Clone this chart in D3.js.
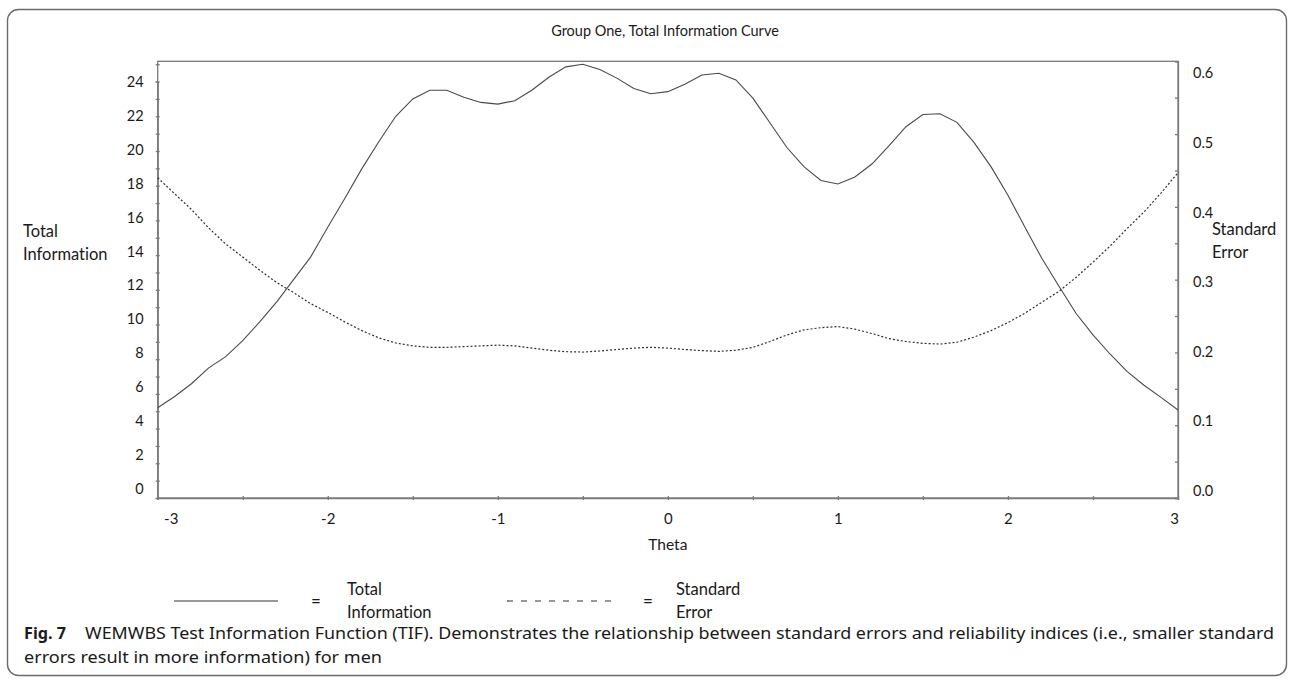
<!DOCTYPE html>
<html lang="en">
<head>
    <meta charset="UTF-8">
    <title>Group One, Total Information Curve</title>
    <style>
        body {
            margin: 0;
            background-color: #fff;
        }

        svg text {
            font-family: Lato, "Open Sans", sans-serif;
            font-variant-ligatures: none;
            fill: #1a1a1a;
        }

        .caption text {
            font-family: "Noto Sans", "Open Sans", sans-serif;
        }

        .frame {
            fill: none;
            stroke: #6b6b6b;
            stroke-width: 1.4;
        }

        .axis path,
        .axis line {
            fill: none;
            stroke: #7a7a7a;
            stroke-width: 1.3;
        }
    </style>
</head>
<body>

<svg id="chart" width="1292" height="683"></svg>

<script src="https://d3js.org/d3.v7.min.js"></script>
<script>
    // theta grid the curves were sampled on
    const theta = [
        -3.0, -2.9, -2.8, -2.7, -2.6, -2.5, -2.4, -2.3, -2.2, -2.1,
        -2.0, -1.9, -1.8, -1.7, -1.6, -1.5, -1.4, -1.3, -1.2, -1.1,
        -1.0, -0.9, -0.8, -0.7, -0.6, -0.5, -0.4, -0.3, -0.2, -0.1,
        0.0, 0.1, 0.2, 0.3, 0.4, 0.5, 0.6, 0.7, 0.8, 0.9,
        1.0, 1.1, 1.2, 1.3, 1.4, 1.5, 1.6, 1.7, 1.8, 1.9,
        2.0, 2.1, 2.2, 2.3, 2.4, 2.5, 2.6, 2.7, 2.8, 2.9, 3.0
    ];

    const totalInfo = [
        5.2, 5.85, 6.6, 7.5, 8.15, 9.07, 10.15, 11.3, 12.6, 13.9,
        15.6, 17.26, 18.97, 20.53, 22.0, 23.0, 23.5, 23.5, 23.1, 22.8,
        22.7, 22.9, 23.5, 24.25, 24.85, 25.0, 24.7, 24.2, 23.6, 23.3,
        23.42, 23.85, 24.38, 24.48, 24.1, 23.05, 21.63, 20.2, 19.1, 18.3,
        18.1, 18.5, 19.25, 20.3, 21.4, 22.1, 22.15, 21.65, 20.5, 19.1,
        17.45, 15.6, 13.8, 12.2, 10.65, 9.4, 8.3, 7.3, 6.5, 5.8, 5.07
    ];

    const stdError = [
        0.440, 0.418, 0.396, 0.371, 0.349, 0.331, 0.313, 0.296, 0.282, 0.267,
        0.255, 0.242, 0.230, 0.220, 0.213, 0.209, 0.207, 0.207, 0.208, 0.209,
        0.210, 0.209, 0.206, 0.203, 0.201, 0.2005, 0.202, 0.204, 0.206, 0.207,
        0.206, 0.204, 0.2025, 0.2015, 0.203, 0.207, 0.215, 0.224, 0.231, 0.234,
        0.2355, 0.232, 0.226, 0.219, 0.215, 0.2125, 0.2115, 0.214, 0.221, 0.230,
        0.241, 0.254, 0.269, 0.284, 0.303, 0.324, 0.346, 0.370, 0.393, 0.419, 0.447
    ];

    const thetaTicks = [-3, -2, -1, 0, 1, 2, 3];
    const thetaMinorTicks = [-3, -2.5, -2, -1.5, -1, -0.5, 0, 0.5, 1, 1.5, 2, 2.5, 3];
    const infoTicks = [0, 2, 4, 6, 8, 10, 12, 14, 16, 18, 20, 22, 24];
    const infoMinorTicks = d3.range(0, 26);
    const seTicks = [0.0, 0.1, 0.2, 0.3, 0.4, 0.5, 0.6];
    const seMinorTicks = d3.range(0, 13).map(i => i * 0.05);

    const svg = d3.select("#chart");

    // plot box
    const plotLeft = 157.7, plotRight = 1178, plotTop = 61.3, plotBottom = 498;

    const x = d3.scaleLinear().domain([-3, 3]).range([plotLeft, plotRight]);
    const yInfo = d3.scaleLinear().domain([0, 24]).range([plotBottom, 81.6]);
    const ySE = d3.scaleLinear().domain([0, 0.6]).range([plotBottom, plotTop]);
    // the tick labels in the original sit slightly off their ticks
    const yInfoLabel = d3.scaleLinear().domain([0, 24]).range([489, 81.7]);
    const ySELabel = d3.scaleLinear().domain([0, 0.6]).range([490.5, 73.3]);

    // outer figure frame
    svg.append("rect")
        .attr("class", "frame")
        .attr("x", 7.5).attr("y", 9.5)
        .attr("width", 1279).attr("height", 666)
        .attr("rx", 11);

    svg.append("text")
        .attr("x", 665).attr("y", 32)
        .attr("text-anchor", "middle")
        .attr("dominant-baseline", "middle")
        .style("font-size", "14.5px")
        .text("Group One, Total Information Curve");

    // box
    svg.append("rect")
        .attr("x", plotLeft).attr("y", plotTop)
        .attr("width", plotRight - plotLeft).attr("height", plotBottom - plotTop)
        .attr("fill", "none")
        .attr("stroke", "#7a7a7a")
        .attr("stroke-width", 1.3);

    // tick marks
    const gx = svg.append("g")
        .attr("class", "axis")
        .attr("transform", `translate(0,${plotBottom})`)
        .call(d3.axisBottom(x).tickValues(thetaMinorTicks).tickSize(2).tickFormat(""));
    gx.selectAll(".tick line").attr("y1", -2);

    const gyl = svg.append("g")
        .attr("class", "axis")
        .attr("transform", `translate(${plotLeft},0)`)
        .call(d3.axisLeft(yInfo).tickValues(infoMinorTicks).tickSize(2).tickFormat(""));
    gyl.selectAll(".tick line").attr("x1", 2);

    svg.append("g")
        .attr("class", "axis")
        .attr("transform", `translate(${plotRight},0)`)
        .call(d3.axisLeft(ySE).tickValues(seMinorTicks).tickSize(3).tickFormat(""));

    // tick labels
    const xl = svg.append("g")
        .attr("transform", `translate(0,${plotBottom})`)
        .call(d3.axisBottom(x).tickValues(thetaTicks).tickSize(0).tickPadding(15).tickFormat(d => String(d)));
    xl.select(".domain").remove();
    xl.selectAll("text").style("font-size", "15px").attr("fill", "#1a1a1a");
    xl.selectAll("text").filter(d => d === -3).attr("dx", 13);
    xl.selectAll("text").filter(d => d === 3).attr("dx", -4);

    const yl = svg.append("g")
        .attr("transform", `translate(${plotLeft},0)`)
        .call(d3.axisLeft(yInfoLabel).tickValues(infoTicks).tickSize(0).tickPadding(14).tickFormat(d => String(d)));
    yl.select(".domain").remove();
    yl.selectAll("text").style("font-size", "14.5px").attr("fill", "#1a1a1a");

    const yr = svg.append("g")
        .attr("transform", `translate(${plotRight},0)`)
        .call(d3.axisRight(ySELabel).tickValues(seTicks).tickSize(0).tickPadding(15).tickFormat(d3.format(".1f")));
    yr.select(".domain").remove();
    yr.selectAll("text").style("font-size", "14.5px").attr("fill", "#1a1a1a");

    // axis titles
    const leftTitle = svg.append("text").style("font-size", "16.5px");
    leftTitle.append("tspan").attr("x", 23).attr("y", 237).text("Total");
    leftTitle.append("tspan").attr("x", 23).attr("y", 260).text("Information");

    const rightTitle = svg.append("text").style("font-size", "16.5px");
    rightTitle.append("tspan").attr("x", 1212).attr("y", 235).text("Standard");
    rightTitle.append("tspan").attr("x", 1212).attr("y", 258).text("Error");

    svg.append("text")
        .attr("x", x(0)).attr("y", 550)
        .attr("text-anchor", "middle")
        .style("font-size", "15.5px")
        .text("Theta");

    // curves
    const infoLine = d3.line()
        .x((d, i) => x(theta[i]))
        .y(d => yInfo(d));

    const seLine = d3.line()
        .x((d, i) => x(theta[i]))
        .y(d => ySE(d));

    svg.append("path")
        .datum(totalInfo)
        .attr("d", infoLine)
        .attr("fill", "none")
        .attr("stroke", "#4a4a4a")
        .attr("stroke-width", 1.1);

    svg.append("path")
        .datum(stdError)
        .attr("d", seLine)
        .attr("fill", "none")
        .attr("stroke", "#2e2e2e")
        .attr("stroke-width", 1.2)
        .attr("stroke-dasharray", "2,2");

    // legend
    const legend = svg.append("g");
    legend.append("line")
        .attr("x1", 174).attr("x2", 278).attr("y1", 601).attr("y2", 601)
        .attr("stroke", "#333").attr("stroke-width", 1.2);
    legend.append("text").attr("x", 316).attr("y", 607)
        .attr("text-anchor", "middle").style("font-size", "17px").text("=");
    const lt1 = legend.append("text").style("font-size", "16.5px");
    lt1.append("tspan").attr("x", 347).attr("y", 595).text("Total");
    lt1.append("tspan").attr("x", 347).attr("y", 618).text("Information");

    legend.append("line")
        .attr("x1", 507).attr("x2", 613).attr("y1", 601).attr("y2", 601)
        .attr("stroke", "#333").attr("stroke-width", 1.2)
        .attr("stroke-dasharray", "6,8");
    legend.append("text").attr("x", 648).attr("y", 607)
        .attr("text-anchor", "middle").style("font-size", "17px").text("=");
    const lt2 = legend.append("text").style("font-size", "16.5px");
    lt2.append("tspan").attr("x", 676).attr("y", 595).text("Standard");
    lt2.append("tspan").attr("x", 676).attr("y", 618).text("Error");

    // figure caption
    const cap = svg.append("g").attr("class", "caption");
    cap.append("text")
        .attr("x", 24).attr("y", 639)
        .attr("textLength", 42).attr("lengthAdjust", "spacingAndGlyphs")
        .style("font-size", "16px").style("font-weight", "bold")
        .text("Fig. 7");
    cap.append("text")
        .attr("x", 85).attr("y", 639)
        .attr("textLength", 1189).attr("lengthAdjust", "spacingAndGlyphs")
        .style("font-size", "16px")
        .text("WEMWBS Test Information Function (TIF). Demonstrates the relationship between standard errors and reliability indices (i.e., smaller standard");
    cap.append("text")
        .attr("x", 24).attr("y", 663)
        .attr("textLength", 358).attr("lengthAdjust", "spacingAndGlyphs")
        .style("font-size", "16px")
        .text("errors result in more information) for men");
</script>
</body>
</html>
